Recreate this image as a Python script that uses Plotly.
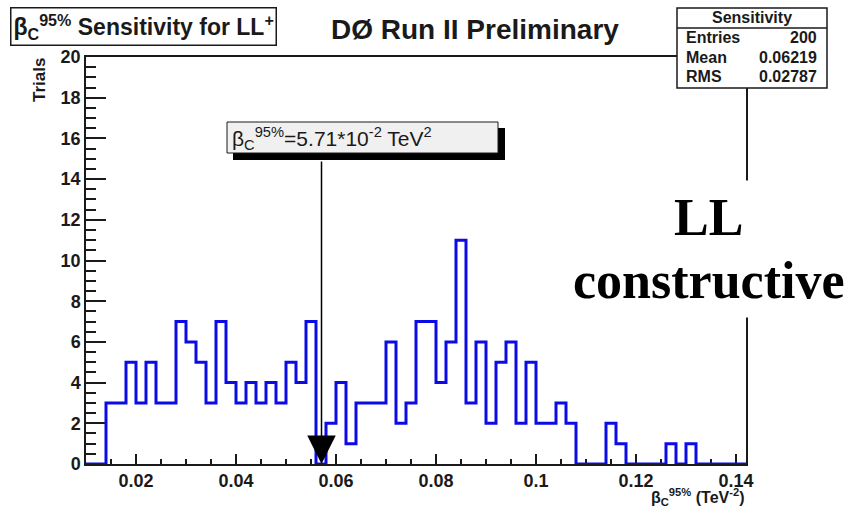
import numpy as np
import plotly.graph_objects as go

# ---- histogram data -------------------------------------------------------
bin_low = 0.010
bin_width = 0.002
counts = [0, 0, 3, 3, 5, 3, 5, 3, 3, 7, 6, 5, 3, 7, 4, 3, 4, 3, 4, 3,
          5, 4, 7, 0, 2, 4, 1, 3, 3, 3, 6, 2, 3, 7, 7, 4, 6, 11, 3, 6,
          2, 5, 6, 2, 5, 2, 2, 3, 2, 0, 0, 0, 2, 1, 0, 0, 0, 0, 1, 0,
          1, 0, 0, 0, 0, 0]
limit_value = 5.71e-2          # beta_C 95% sensitivity (TeV^-2)
limit_text = "5.71*10<sup>-2</sup>"
stats_title = "Sensitivity"
stats_labels = ["Entries", "Mean", "RMS"]
stats_values = ["200", "0.06219", "0.02787"]
x_tick_vals = [0.02, 0.04, 0.06, 0.08, 0.10, 0.12, 0.14]
x_tick_text = ["0.02", "0.04", "0.06", "0.08", "0.1", "0.12", "0.14"]
y_tick_vals = [0, 2, 4, 6, 8, 10, 12, 14, 16, 18, 20]

edges = bin_low + bin_width * np.arange(len(counts) + 1)
step_y = counts + [counts[-1]]

# ---- page geometry ----------------------------------------------------------
W, H = 849, 510
L, R, T, B = 86, 746, 57, 464          # plot frame in pixels


def px(x):
    return (x - L) / (R - L)


def py(y):
    return (B - y) / (B - T)


SANS = "Liberation Sans, Arial, sans-serif"
SERIF = "Liberation Serif, Times New Roman, serif"
INK = "#1a1a1a"

fig = go.Figure()
fig.add_trace(go.Scatter(
    x=edges, y=step_y, mode="lines", line_shape="hv",
    line=dict(color="#0b0be6", width=3), hoverinfo="skip", showlegend=False,
))

axis_common = dict(
    showgrid=False, zeroline=False, showline=True, mirror=True,
    linecolor=INK, linewidth=1.5, ticks="inside", tickcolor=INK,
    tickwidth=1.5, layer="below traces",
    tickfont=dict(family=SANS, size=18, color=INK, weight="bold"),
)

fig.update_layout(
    width=W, height=H,
    margin=dict(l=L, r=W - R, t=T, b=H - B),
    paper_bgcolor="white", plot_bgcolor="white",
    xaxis=dict(range=[bin_low, edges[-1]], tickvals=x_tick_vals,
               ticktext=x_tick_text, ticklen=10,
               minor=dict(dtick=0.005, tick0=0, ticks="inside", ticklen=5,
                          tickcolor=INK, tickwidth=1.5),
               **axis_common),
    yaxis=dict(range=[0, 20], tickvals=y_tick_vals, ticklen=20,
               minor=dict(dtick=0.5, tick0=0, ticks="inside", ticklen=10,
                          tickcolor=INK, tickwidth=1.5),
               **axis_common),
)

beta = "β<sub>C</sub><sup>95%</sup>"
ann = []
shapes = []

# title box, top left
ann.append(dict(
    xref="paper", yref="paper", x=px(10), y=py(7), xanchor="left", yanchor="top",
    text=f"<b>{beta} Sensitivity for LL<sup>+</sup></b>", showarrow=False,
    font=dict(family=SANS, size=23, color=INK),
    bgcolor="white", bordercolor=INK, borderwidth=1.5, borderpad=2,
))
# main title
ann.append(dict(
    xref="paper", yref="paper", x=px(475), y=py(29), xanchor="center", yanchor="middle",
    text="<b>DØ Run II Preliminary</b>", showarrow=False,
    font=dict(family=SANS, size=28, color=INK),
))
# y axis title
ann.append(dict(
    xref="paper", yref="paper", x=px(40), y=py(56), xanchor="center", yanchor="top",
    text="<b>Trials</b>", textangle=-90, showarrow=False,
    font=dict(family=SANS, size=17, color=INK),
))
# x axis title
ann.append(dict(
    xref="paper", yref="paper", x=px(746), y=py(497), xanchor="right", yanchor="middle",
    text=f"<b>{beta} (TeV<sup>-2</sup>)</b>", showarrow=False,
    font=dict(family=SANS, size=16, color=INK),
))

# arrow marking the sensitivity value
ann.append(dict(
    xref="x", yref="y", x=limit_value, y=0, axref="x", ayref="y",
    ax=limit_value, ay=(B - 160) / (B - T) * 20,
    text="", showarrow=True, arrowhead=2, arrowsize=3.8, arrowwidth=1.5,
    arrowcolor="black", standoff=0,
))
# value label: shaded box with drop shadow
shapes.append(dict(type="rect", xref="paper", yref="paper",
                   x0=px(233), x1=px(505), y0=py(160), y1=py(128),
                   fillcolor="black", line=dict(width=0), layer="above"))
shapes.append(dict(type="rect", xref="paper", yref="paper",
                   x0=px(227), x1=px(498), y0=py(153), y1=py(122),
                   fillcolor="#f0f0f0", line=dict(color=INK, width=1), layer="above"))
ann.append(dict(
    xref="paper", yref="paper", x=px(230), y=py(138), xanchor="left", yanchor="middle",
    text=f"{beta}={limit_text} TeV<sup>2</sup>", showarrow=False, align="left",
    font=dict(family=SANS, size=21, color=INK),
))

# annotation text on the right edge
for txt, yc in [("LL", 217), ("constructive", 280)]:
    ann.append(dict(
        xref="paper", yref="paper", x=px(708), y=py(yc), xanchor="center", yanchor="middle",
        text=f"<b>{txt}</b>", showarrow=False,
        font=dict(family=SERIF, size=52, color="black"),
        bgcolor="white", borderpad=8,
    ))

# statistics box
shapes += [
    dict(type="rect", xref="paper", yref="paper", x0=px(677), x1=px(827),
         y0=py(88), y1=py(8), fillcolor="white", line=dict(color=INK, width=1.5),
         layer="above"),
    dict(type="line", xref="paper", yref="paper", x0=px(677), x1=px(827),
         y0=py(28), y1=py(28), line=dict(color=INK, width=1.5), layer="above"),
]
ann.append(dict(
    xref="paper", yref="paper", x=px(752), y=py(18), xanchor="center", yanchor="middle",
    text=f"<b>{stats_title}</b>", showarrow=False,
    font=dict(family=SANS, size=16, color=INK),
))
for i, (lab, val) in enumerate(zip(stats_labels, stats_values)):
    yc = 38 + 19 * i
    ann.append(dict(
        xref="paper", yref="paper", x=px(684), y=py(yc), xanchor="left", yanchor="middle",
        text=f"<b>{lab}</b>", showarrow=False, font=dict(family=SANS, size=16, color=INK),
    ))
    ann.append(dict(
        xref="paper", yref="paper", x=px(819), y=py(yc), xanchor="right", yanchor="middle",
        text=f"<b>{val}</b>", showarrow=False, font=dict(family=SANS, size=16, color=INK),
    ))

fig.update_layout(annotations=ann, shapes=shapes)
fig.write_html("out.html")
